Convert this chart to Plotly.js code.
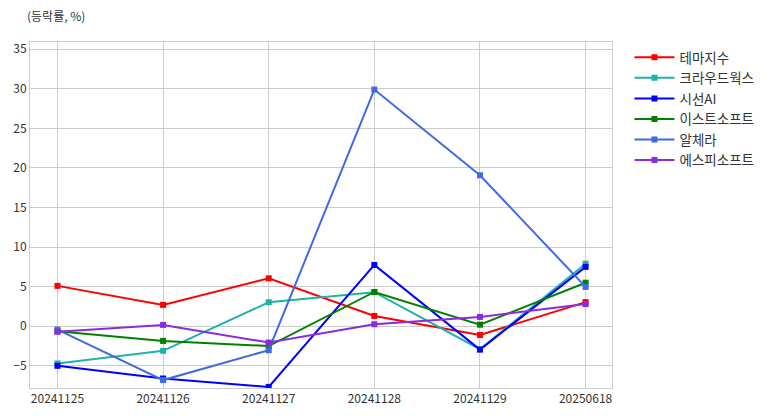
<!DOCTYPE html>
<html><head><meta charset="utf-8">
<script src="https://cdn.plot.ly/plotly-3.0.1.min.js"></script>
<style>html,body{margin:0;padding:0;background:#fff}#c{width:775px;height:416px}</style>
</head><body><div id="c"></div>
<script>
const dates = ['20241125','20241126','20241127','20241128','20241129','20250618'];
const seriesNames = ['테마지수','크라우드웍스','시선AI','이스트소프트','알체라','에스피소프트'];
const themeIndex = [5.1, 2.7, 6.05, 1.3, -1.1, 3.05];
const crowdworks = [-4.7, -3.1, 3.03, 4.3, -2.9, 7.9];
const seeonAI = [-5.0, -6.6, -7.66, 7.74, -2.95, 7.5];
const estsoft = [-0.63, -1.85, -2.5, 4.33, 0.2, 5.5];
const alchera = [-0.42, -6.8, -3.03, 29.9, 19.07, 4.97];
const spsoft = [-0.7, 0.17, -2.06, 0.25, 1.18, 2.8];
const colors = ['#ff0000','#20b2aa','#0000ff','#008000','#4169e1','#8a2be2'];
const values = [themeIndex, crowdworks, seeonAI, estsoft, alchera, spsoft];
const FONT = '"Noto Sans CJK KR", "Noto Sans", sans-serif';
const traces = values.map((v,i)=>({
  x: dates, y: v, name: seriesNames[i], type:'scatter', mode:'lines+markers',
  line:{color:colors[i], width:2}, marker:{symbol:'square', size:6, color:colors[i]}
}));
const layout = {
  width:775, height:416,
  margin:{l:30, r:163, t:42, b:28},
  paper_bgcolor:'#fff', plot_bgcolor:'#fff',
  font:{family:FONT, size:12, color:'#333'},
  showlegend:true,
  legend:{x:1.03, y:1.0, xanchor:'left', yanchor:'top', font:{size:13.5, color:'#333'}, tracegroupgap:0, itemwidth:40},
  xaxis:{type:'category', range:[-0.26,5.25], showgrid:true, gridcolor:'#cccccc', gridwidth:1,
    showline:true, linecolor:'#cccccc', linewidth:1, mirror:true, ticks:'', zeroline:false,
    tickfont:{size:12, color:'#333'}},
  yaxis:{range:[-7.8,35.9], dtick:5, tick0:0, showgrid:true, gridcolor:'#cccccc', gridwidth:1,
    showline:true, linecolor:'#cccccc', linewidth:1, mirror:true, ticks:'', zeroline:false,
    tickfont:{size:12, color:'#333'}},
  annotations:[{text:'(등락률, %)', xref:'paper', yref:'paper', x:0, y:1, xshift:-5, yshift:27,
    xanchor:'left', yanchor:'middle', showarrow:false, font:{size:12, color:'#333', family:FONT}}]
};
Plotly.newPlot('c', traces, layout, {displayModeBar:false, staticPlot:true});
</script></body></html>
